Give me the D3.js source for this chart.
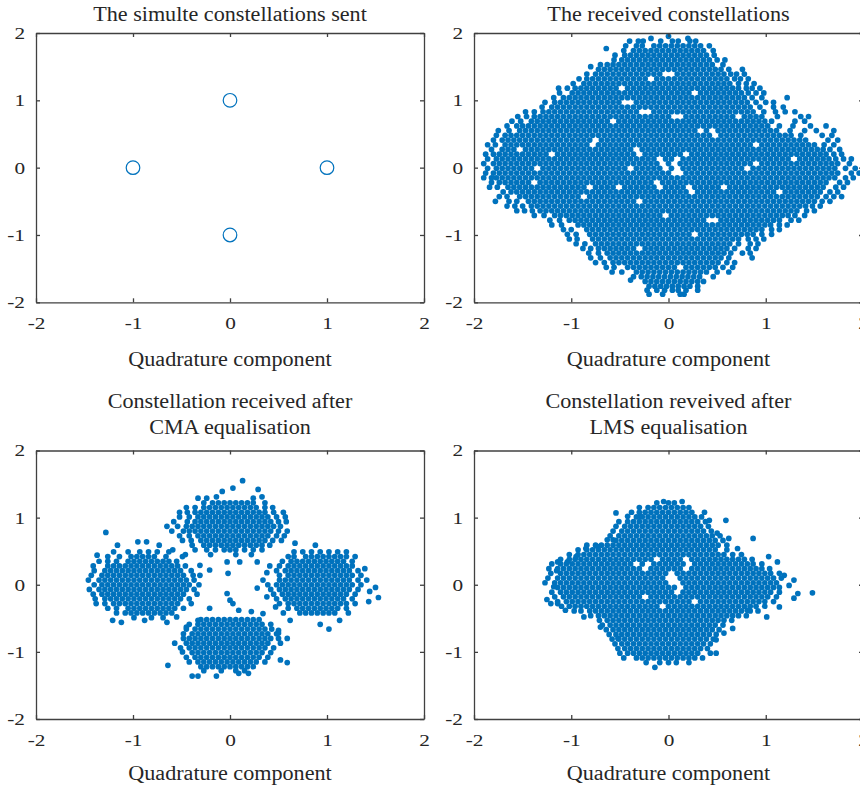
<!DOCTYPE html>
<html>
<head>
<meta charset="utf-8">
<script src="https://cdn.jsdelivr.net/npm/d3@7"></script>
<style>
  html, body { margin: 0; padding: 0; background: #ffffff; }
  svg { display: block; }
</style>
</head>
<body>
<script>
// ---- Data -----------------------------------------------------------------
// Axis ticks shared by all four constellation plots.
const ticks = [-2, -1, 0, 1, 2];

// Transmitted QPSK symbols (in-phase / quadrature).
const sentI = [-1, 0, 1, 0];
const sentQ = [0, 1, 0, -1];

// Titles (one entry per line) and the common x-axis label.
const titles = [
  ["The simulte constellations sent"],
  ["The received constellations"],
  ["Constellation received after", "CMA equalisation"],
  ["Constellation reveived after", "LMS equalisation"]
];
const xLabel = "Quadrature component";

// Received samples, stored row by row in hundredths: [y, x1, x2, ...].
const receivedRows = [
  [195, 0],
  [192, -18,20],
  [188, -40,-31,-26,-8,4,10,22,28],
  [181, -44,-33,-27,-15,-9,-3,3,9,15,21,27,33,42],
  [177, -64],
  [174, -46,-36,-30,-24,-18,-12,-6,0,6,12,18,24,30,36,46],
  [167, -55,-45,-39,-33,-27,-21,-15,-9,-3,3,9,15,21,27,33,39,47],
  [160, -56,-48,-42,-36,-30,-24,-18,-12,-6,0,6,12,18,24,30,36,42,50,58],
  [153, -70,-63,-57,-51,-45,-39,-33,-27,-21,-15,-9,-3,3,9,15,21,27,33,39,45,56],
  [150, -80],
  [146, -72,-66,-60,-54,-48,-42,-36,-30,-24,-18,-12,-6,0,6,12,18,24,30,36,42,48,54,62,76],
  [139, -84,-75,-69,-63,-57,-51,-45,-39,-33,-27,-21,-15,-9,9,15,21,27,33,39,45,51,57,64,70,78],
  [132, -92,-84,-78,-72,-66,-60,-54,-48,-42,-36,-30,-24,-12,-6,0,6,12,18,24,30,36,42,48,54,60,68,74,82],
  [125, -98,-87,-81,-75,-69,-63,-57,-51,-45,-39,-33,-27,-21,-15,-9,-3,3,9,15,21,27,33,39,45,51,57,63,72,80,88],
  [118, -113,-104,-96,-90,-84,-78,-72,-66,-60,-54,-42,-36,-30,-24,-18,-12,-6,0,6,12,18,24,30,36,42,48,54,60,66,72,80,86,94],
  [111, -112,-99,-93,-87,-81,-75,-69,-63,-57,-51,-45,-39,-33,-27,-21,-15,-9,-3,3,9,15,21,33,39,45,51,57,63,69,75,82,90,98],
  [104, -118,-108,-102,-96,-90,-84,-78,-72,-66,-60,-54,-48,-42,-36,-30,-24,-18,-12,-6,0,6,12,18,24,30,36,42,48,54,60,66,72,78,86,96,122],
  [97, -127,-117,-111,-105,-99,-93,-87,-81,-75,-69,-63,-57,-51,-33,-27,-21,-15,-9,-3,3,9,15,21,27,33,39,45,51,57,63,69,75,81,90,100,108],
  [90, -130,-120,-114,-108,-102,-96,-90,-84,-78,-72,-66,-60,-54,-48,-42,-36,-30,-24,-18,-12,-6,0,6,12,18,24,30,36,42,48,54,60,66,72,78,84,94,108,118],
  [83, -147,-138,-129,-123,-117,-111,-105,-99,-93,-87,-81,-75,-69,-63,-57,-51,-45,-39,-33,-15,-9,-3,3,9,15,21,27,33,39,45,51,57,63,69,75,81,87,98,110,120,130],
  [76, -155,-146,-138,-132,-126,-120,-114,-108,-102,-96,-90,-84,-78,-72,-66,-60,-54,-48,-42,-36,-30,-24,-18,-12,-6,0,18,24,30,36,42,48,54,60,66,78,84,90,96,112,136,144],
  [69, -161,-152,-141,-135,-129,-123,-117,-111,-105,-99,-93,-87,-81,-75,-69,-63,-51,-45,-39,-33,-27,-21,-15,-9,-3,3,9,15,21,27,33,39,45,51,57,63,69,75,81,87,93,99,106,130,140],
  [62, -166,-156,-150,-144,-138,-132,-126,-120,-114,-108,-102,-96,-90,-84,-78,-72,-66,-60,-54,-48,-42,-36,-30,-24,-18,-12,-6,0,6,12,18,24,30,36,42,48,54,60,66,72,78,84,90,96,102,114,128,146,162],
  [55, -175,-164,-153,-147,-141,-135,-129,-123,-117,-111,-105,-99,-93,-87,-81,-75,-69,-63,-57,-51,-45,-39,-33,-27,-21,-15,-9,-3,3,9,15,21,27,39,51,57,63,69,75,81,87,93,99,105,111,125,140,152,170],
  [48, -177,-168,-162,-156,-150,-144,-138,-132,-126,-120,-114,-108,-102,-96,-90,-84,-78,-72,-66,-60,-54,-48,-42,-36,-30,-24,-18,-12,-6,0,6,12,18,24,30,36,42,54,60,66,72,78,84,90,96,102,108,114,120,126,136,158,168],
  [41, -180,-171,-165,-159,-153,-147,-141,-135,-129,-123,-117,-111,-105,-99,-93,-87,-81,-69,-63,-57,-51,-45,-39,-33,-27,-21,-15,-9,-3,3,9,15,21,27,33,39,45,51,57,63,69,75,81,87,93,99,105,111,117,123,129,135,141,164,174],
  [34, -186,-178,-168,-162,-156,-150,-144,-138,-132,-126,-120,-114,-108,-102,-96,-90,-84,-72,-66,-60,-54,-48,-42,-36,-30,-24,-18,-12,-6,0,6,12,18,24,30,36,42,48,54,60,66,72,78,84,96,102,108,114,120,126,132,138,144,150,160,170],
  [27, -182,-171,-165,-159,-147,-141,-135,-129,-123,-117,-111,-105,-99,-93,-87,-81,-75,-69,-63,-57,-51,-45,-39,-27,-21,-15,-9,-3,3,9,15,21,27,33,39,45,51,57,63,69,75,81,87,93,99,105,111,117,123,129,135,141,147,153,159,166,176],
  [20, -188,-180,-174,-168,-162,-156,-150,-144,-138,-132,-126,-114,-108,-102,-96,-90,-84,-78,-72,-66,-60,-54,-48,-42,-36,-24,-18,-12,-6,0,6,12,24,30,36,42,48,54,60,66,72,78,84,90,96,102,108,114,120,126,132,138,144,150,156,162,170,178],
  [13, -186,-177,-171,-165,-159,-153,-147,-141,-135,-129,-123,-117,-111,-105,-99,-93,-87,-81,-75,-69,-63,-57,-51,-45,-39,-33,-27,-21,-15,-3,3,15,21,27,33,39,45,51,57,63,69,75,81,87,93,99,105,111,117,123,135,141,147,153,159,165,172,180,188],
  [6, -190,-180,-174,-168,-162,-156,-150,-144,-138,-132,-126,-120,-114,-108,-102,-96,-90,-84,-78,-72,-66,-60,-54,-48,-42,-36,-30,-24,-18,-12,0,12,18,24,30,36,42,48,54,60,66,72,78,84,96,102,108,114,120,126,132,138,144,150,156,162,168,174,186],
  [-1, -186,-177,-171,-165,-159,-153,-147,-141,-129,-123,-117,-111,-105,-99,-93,-87,-81,-75,-69,-63,-57,-51,-45,-33,-27,-21,-15,-9,3,15,21,27,33,39,45,51,57,63,69,75,87,93,99,105,111,117,123,129,135,141,147,153,159,165,171,182,192],
  [-8, -188,-180,-174,-168,-162,-156,-150,-144,-138,-132,-126,-120,-114,-108,-102,-96,-90,-84,-78,-72,-66,-60,-54,-48,-42,-36,-30,-24,-18,-12,-6,0,18,24,30,36,42,48,54,60,66,72,78,84,90,96,102,108,114,120,126,132,138,144,150,156,162,168,174,188,196],
  [-15, -190,-182,-177,-171,-165,-159,-153,-147,-141,-135,-129,-123,-117,-111,-105,-99,-93,-87,-81,-75,-69,-63,-57,-51,-45,-39,-33,-27,-21,-15,-9,-3,3,9,15,21,27,33,39,45,51,57,63,69,75,81,87,93,99,105,111,117,123,129,135,141,147,153,159,165,171,182,190],
  [-22, -182,-174,-168,-162,-156,-150,-144,-132,-126,-120,-114,-108,-102,-96,-90,-84,-78,-72,-66,-60,-54,-48,-42,-36,-30,-24,-18,-6,0,6,12,18,24,30,36,42,48,54,60,66,72,78,84,90,96,102,108,114,120,126,132,138,144,150,156,162,176,184],
  [-29, -184,-176,-165,-159,-153,-147,-141,-135,-129,-123,-117,-111,-105,-99,-93,-87,-75,-69,-63,-57,-45,-39,-33,-27,-21,-15,-3,3,9,15,27,33,39,45,51,63,69,75,81,87,93,99,105,111,117,123,129,135,141,147,153,159,172,180],
  [-36, -170,-162,-156,-150,-144,-138,-132,-126,-120,-114,-108,-102,-96,-90,-84,-78,-72,-66,-60,-54,-48,-42,-36,-30,-24,-18,-12,-6,0,6,12,18,30,36,42,48,54,60,66,72,78,84,90,96,102,108,120,126,132,138,144,150,156,166,174],
  [-43, -174,-166,-153,-147,-141,-135,-129,-123,-117,-111,-105,-99,-93,-81,-75,-69,-63,-57,-51,-45,-39,-33,-27,-21,-15,-9,-3,3,9,15,21,27,33,39,45,51,57,63,69,75,81,87,93,99,105,111,117,123,129,135,141,147,153,162,170,178],
  [-50, -178,-164,-156,-144,-138,-132,-126,-120,-114,-108,-102,-96,-90,-84,-78,-72,-66,-60,-54,-48,-42,-36,-24,-18,-12,-6,0,6,12,18,24,30,36,42,48,54,60,66,72,78,84,90,96,102,108,114,120,126,132,138,144,150,158,166],
  [-57, -166,-158,-150,-141,-135,-129,-123,-117,-111,-105,-99,-93,-87,-81,-75,-69,-63,-57,-51,-45,-39,-33,-27,-21,-15,-9,-3,3,9,15,21,27,33,39,45,51,57,63,69,75,81,87,93,99,105,111,117,123,129,135,141,148,156],
  [-64, -156,-148,-140,-132,-126,-120,-114,-108,-102,-96,-90,-84,-78,-72,-66,-60,-54,-48,-42,-36,-30,-24,-18,-12,-6,0,6,12,18,24,30,36,42,48,54,60,66,72,78,84,90,96,102,108,114,120,126,132,142,150],
  [-71, -138,-128,-117,-111,-105,-99,-93,-87,-81,-75,-69,-63,-57,-51,-45,-39,-33,-27,-21,-15,-9,3,9,15,21,27,33,39,45,51,57,63,69,75,81,87,93,99,105,111,117,123,130,140],
  [-78, -122,-112,-102,-96,-90,-84,-78,-72,-66,-60,-54,-48,-42,-36,-30,-24,-18,-12,-6,0,6,12,18,24,30,36,54,60,66,72,78,84,90,96,102,108,114,126,134],
  [-85, -120,-110,-93,-87,-81,-75,-69,-63,-57,-51,-45,-39,-33,-27,-21,-15,-9,-3,3,9,15,21,27,33,39,45,51,57,63,69,75,81,87,93,99,105,114,122],
  [-92, -108,-100,-84,-78,-72,-66,-60,-54,-48,-42,-36,-30,-24,-18,-12,-6,0,6,12,18,24,30,36,42,48,54,60,66,72,78,84,90,96,106,114],
  [-99, -104,-95,-81,-75,-69,-63,-57,-51,-45,-39,-33,-27,-21,-15,-9,-3,3,9,15,21,33,39,45,51,57,63,69,75,81,87,96,106],
  [-106, -102,-94,-78,-72,-66,-60,-54,-48,-42,-36,-30,-24,-18,-12,-6,0,6,12,18,24,30,36,42,48,54,60,66,72,82,90,98],
  [-113, -95,-86,-75,-69,-63,-57,-51,-45,-39,-33,-27,-21,-15,-9,-3,3,9,15,21,27,33,39,45,51,57,63,72,84,92],
  [-120, -88,-80,-72,-66,-60,-54,-48,-42,-36,-24,-18,-12,-6,0,6,12,18,24,30,36,42,48,54,60,68,82,90],
  [-127, -82,-72,-63,-57,-51,-45,-39,-33,-27,-21,-15,-9,-3,3,9,15,21,27,33,39,45,51,57,64,76,84],
  [-134, -80,-70,-60,-54,-48,-42,-36,-30,-24,-18,-12,-6,0,6,12,18,24,30,36,42,48,54,62,86],
  [-141, -75,-66,-57,-51,-45,-39,-33,-27,-21,-15,-9,-3,3,9,15,21,27,33,39,45,51,60,68],
  [-148, -64,-56,-42,-36,-30,-24,-18,-12,-6,0,6,18,24,30,36,42,48,56,66],
  [-155, -58,-48,-33,-27,-21,-15,-9,-3,3,9,15,21,27,33,39,50,62],
  [-162, -36,-28,-22,-16,-10,-4,2,8,14,20,26,32,46],
  [-167, -39],
  [-169, -24,-18,-12,-6,0,6,12,18,24,30,36],
  [-176, -20,-14,-8,-2,4,10,16,22,30],
  [-182, -22,-12,-4,4,10,18,30],
  [-188, -20,-6,12,16]
];

// Samples after CMA equalisation, same row layout.
const cmaRows = [
  // upper symbol
  [155, 13], [144, 3], [142, 29], [139, -8], [131, -14,33], [129, -33,-24,24],
  [122, -27,-18,-12,-6,0,6,12,18,24,36],
  [115, -45,-36,-27,-21,-15,-9,-3,3,9,15,21,27,36,44],
  [108, -52,-44,-36,-30,-24,-18,-12,-6,0,6,12,18,24,30,36,45,55],
  [101, -52,-42,-33,-27,-21,-15,-9,-3,3,9,15,21,27,33,39,48,57],
  [94, -58,-44,-36,-30,-24,-18,-12,-6,0,6,12,18,24,30,36,42,50,58],
  [87, -65,-54,-45,-39,-33,-27,-21,-15,-9,-3,3,9,15,21,27,33,39,45,52],
  [80, -60,-48,-42,-36,-30,-24,-18,-12,-6,0,6,12,18,24,30,36,42,50,59],
  [73, -52,-42,-33,-27,-21,-15,-9,-3,3,9,15,21,27,33,39,48,56],
  [66, -49,-40,-30,-24,-18,-12,-6,0,6,12,18,24,30,36,44,53],
  [59, -39,-27,-21,-15,-9,-3,3,9,15,21,27,33,41],
  [52, -36,-24,-15,-6,0,6,15,24,33],
  [45, -46,-20,6,22],
  [34, -3,10,28], [29, -31], [22, -21], [17, -2],
  // left symbol
  [78, -128], [64, -95,-86], [59, -116,-73], [52, -59], [44, -137],
  [49, -120,-105,-93,-84,-75,-63],
  [42, -126,-114,-102,-96,-90,-84,-78,-66,-49],
  [35, -135,-126,-117,-105,-99,-93,-87,-81,-75,-69,-63,-55],
  [28, -141,-126,-120,-114,-108,-102,-96,-90,-84,-78,-72,-66,-60,-54,-46],
  [21, -140,-129,-123,-117,-111,-105,-99,-93,-87,-81,-75,-69,-63,-57,-51,-40],
  [14, -143,-132,-126,-120,-114,-108,-102,-96,-90,-84,-78,-72,-66,-60,-54,-48,-38,-31],
  [7, -146,-135,-129,-123,-117,-111,-105,-99,-93,-87,-81,-75,-69,-63,-57,-51,-45,-37],
  [0, -140,-132,-126,-120,-114,-108,-102,-96,-90,-84,-78,-72,-66,-60,-54,-48,-42,-32],
  [-7, -145,-135,-129,-123,-117,-111,-105,-99,-93,-87,-81,-75,-69,-63,-57,-51,-45,-37],
  [-14, -141,-132,-126,-120,-114,-108,-102,-96,-90,-84,-78,-72,-66,-60,-54,-48,-34],
  [-21, -139,-129,-123,-117,-111,-105,-99,-93,-87,-81,-75,-69,-63,-57,-51,-42],
  [-28, -138,-129,-120,-114,-108,-102,-96,-90,-84,-78,-72,-66,-60,-54,-40],
  [-35, -126,-117,-105,-99,-93,-87,-81,-75,-69,-63,-57,-48],
  [-42, -117,-108,-102,-96,-90,-84,-78,-72,-66,-60],
  [-48, -55], [-49, -99,-81,-69], [-53, -121,-88], [-56, -112,-65],
  // right symbol
  [62, 67], [59, 88],
  [49, 66,75,84,93,102,111,120],
  [42, 60,66,78,84,90,96,102,108,114,120,129],
  [35, 54,63,69,75,81,87,93,99,105,111,117,126],
  [28, 41,51,60,66,72,78,84,90,96,102,108,114,120,126],
  [24, 139],
  [21, 48,57,63,69,75,81,87,93,99,105,111,117,123,132],
  [18, 38],
  [14, 51,60,66,72,78,84,90,96,102,108,114,120,126,135],
  [7, 34,51,57,63,69,75,81,87,93,99,105,111,117,123,132,141],
  [0, 39,48,54,60,66,72,78,84,90,96,102,108,114,120,126,135],
  [-4, 150], [-5, 28],
  [-7, 42,51,57,63,69,75,81,87,93,99,105,111,117,123,132],
  [-10, 144],
  [-14, 45,54,60,66,72,78,84,90,96,102,108,114,120,129],
  [-18, 38], [-19, 153],
  [-21, 48,57,63,69,75,81,87,93,99,105,111,117,126],
  [-25, 143],
  [-28, 51,60,66,72,78,84,90,96,102,108,114,120,129],
  [-33, 47],
  [-35, 60,69,75,81,87,93,99,105,111,120],
  [-42, 55,72,78,84,90,96,102,108,122],
  [-53, 62,113], [-59, 93], [-66, 102],
  // lower symbol
  [-13, -3], [-23, 0], [-28, 3], [-35, -21], [-38, 9], [-40, 22], [-43, 34],
  [-52, -30,-24,-18,-12,-6,0,6,12,18,24,30],
  [-53, -33],
  [-59, -42,-33,-27,-21,-15,-9,-3,3,9,15,21,27,33,42],
  [-63, -45],
  [-66, -45,-36,-30,-24,-18,-12,-6,0,6,12,18,24,30,36,43],
  [-68, 50], [-72, 50],
  [-73, -48,-39,-33,-27,-21,-15,-9,-3,3,9,15,21,27,33,39,48],
  [-80, -48,-42,-36,-30,-24,-18,-12,-6,0,6,12,18,24,30,36,42,50,59],
  [-87, -57,-45,-39,-33,-27,-21,-15,-9,-3,3,9,15,21,27,33,39,52],
  [-94, -51,-42,-36,-30,-24,-18,-12,-6,0,6,12,18,24,30,36,45],
  [-100, -49],
  [-101, -39,-33,-27,-21,-15,-9,-3,3,9,15,21,27,33,42],
  [-108, -45,-36,-30,-24,-18,-12,-6,0,6,12,18,24,30,39],
  [-112, 52],
  [-115, -42,-33,-27,-21,-15,-9,-3,3,9,15,21,27,36],
  [-116, 59], [-120, -64],
  [-122, -30,-24,-18,-12,-6,0,6,12,18,24],
  [-128, -27,-9,6,15],
  [-132, 9,19],
  [-136, -39,-33,-14]
];

// Samples after LMS equalisation, same row layout.
const lmsRows = [
  [124, -5,14],
  [122, -12,0,6],
  [115, -30,-21,-15,-9,-3,3,9,15,21],
  [108, -38,-30,-24,-18,-12,-6,0,6,12,18,24,37],
  [107, -54],
  [102, -42,-29],
  [101, -33,-27,-21,-15,-9,-3,3,9,15,21,27,34],
  [96, 42,59],
  [94, -51,-42,-36,-30,-24,-18,-12,-6,0,6,12,18,24,30,38],
  [87, -54,-45,-39,-33,-27,-21,-15,-9,-3,3,9,15,21,27,33,41],
  [80, -57,-48,-42,-36,-30,-24,-18,-12,-6,0,6,12,18,24,30,36,44],
  [77, 50],
  [73, -60,-51,-45,-39,-33,-27,-21,-15,-9,-3,3,9,15,21,27,33,39,45,53],
  [69, 62,87],
  [67, -63,-57],
  [66, -54,-48,-42,-36,-30,-24,-18,-12,-6,0,6,12,18,24,30,36,42,48,56],
  [59, -84,-75,-69,-63,-57,-51,-45,-39,-33,-27,-21,-15,-9,-3,3,9,15,21,27,33,39,45,51,60],
  [57, -73],
  [54, -85,71],
  [52, -93,-84,-78,-72,-66,-60,-54,-48,-42,-36,-30,-24,-18,-12,-6,0,6,12,18,24,30,36,42,48,60],
  [45, -102,-93,-87,-81,-75,-69,-63,-57,-51,-45,-39,-33,-27,-21,-15,-9,-3,3,9,15,21,27,33,39,45,51,57,66,75],
  [42, -95,103],
  [38, -111,-102,-96,-90,-84,-78,-72,-66,-60,-54,-48,-42,-36,-30,-24,-18,-6,0,6,12,24,30,36,42,48,54,60,66,72,78,86],
  [34, -114,-104,112],
  [31, -120,-111,-105,-99,-93,-87,-81,-75,-69,-63,-57,-51,-45,-39,-27,-15,-9,-3,3,9,15,27,33,39,45,51,57,63,69,75,81,87,96],
  [24, -123,-114,-108,-102,-96,-90,-84,-78,-72,-66,-60,-54,-48,-42,-36,-30,-18,-12,-6,0,6,12,24,30,36,42,48,54,60,66,72,78,84,90,96,104],
  [21, -115],
  [17, -121,-111,-105,-99,-93,-87,-81,-75,-69,-63,-57,-51,-45,-39,-33,-27,-21,-15,-9,-3,9,15,21,27,33,39,45,51,57,63,69,75,81,87,93,99,105,114],
  [14, 119],
  [10, -124,-114,-108,-102,-96,-90,-84,-78,-72,-66,-60,-54,-48,-42,-36,-30,-24,-18,-12,-6,12,18,24,30,36,42,48,54,60,66,72,78,84,90,96,102,108,116],
  [7, 129],
  [3, -127,-117,-111,-105,-99,-93,-87,-81,-75,-69,-63,-57,-51,-45,-39,-33,-27,-21,-15,-9,-3,15,21,27,33,39,45,51,57,63,69,75,81,87,93,99,105,111],
  [-1, 124],
  [-3, -118],
  [-4, -114,-108,-102,-96,-90,-84,-78,-72,-66,-60,-54,-48,-42,-36,-30,-24,-18,-12,-6,0,6,18,24,30,36,42,48,54,60,66,72,78,84,90,96,102,108,114],
  [-11, -120,-111,-105,-99,-93,-87,-81,-75,-69,-63,-57,-51,-45,-39,-33,-27,-21,-15,-9,-3,3,15,21,27,33,39,45,51,57,63,69,75,81,87,93,99,105,114],
  [-12, 148],
  [-13, 133],
  [-18, -117,-108,-102,-96,-90,-84,-78,-72,-66,-60,-54,-48,-42,-36,-30,-18,-12,-6,0,6,12,18,24,30,36,42,48,54,60,66,72,78,84,90,96,102,111],
  [-20, 129],
  [-22, -125],
  [-25, -114,-105,-99,-93,-87,-81,-75,-69,-63,-57,-51,-45,-39,-33,-27,-21,-15,-9,-3,3,9,15,21,33,39,45,51,57,63,69,75,81,87,93,99,108],
  [-28, -121,-114],
  [-32, -110,-102,-96,-90,-84,-78,-72,-66,-60,-54,-48,-42,-36,-30,-24,-18,-12,0,6,12,18,24,30,36,42,48,54,60,66,72,78,84,90,99],
  [-33, 114],
  [-38, -106,81],
  [-39, -97,-90,-81,-75,-69,-63,-57,-51,-45,-39,-33,-27,-21,-15,-9,-3,3,9,15,21,27,33,39,45,51,57,63,69,75,84,92],
  [-46, -80,-72,-66,-60,-54,-48,-42,-36,-30,-24,-18,-12,-6,0,6,12,18,24,30,36,42,48,54,60,66,72,80],
  [-48, -87,101],
  [-53, -71,-63,-57,-51,-45,-39,-33,-27,-21,-15,-9,-3,3,9,15,21,27,33,39,45,51,57,65],
  [-60, -68,-60,-54,-48,-42,-36,-30,-24,-18,-12,-6,0,6,12,18,24,30,36,42,48,56],
  [-63, -70],
  [-65, 66],
  [-67, -64,-57,-51,-45,-39,-33,-27,-21,-15,-9,-3,3,9,15,21,27,33,39,45,52],
  [-72, 57],
  [-74, -61,-54,-48,-42,-36,-30,-24,-18,-12,-6,0,6,12,18,24,30,36,42,49],
  [-80, -52],
  [-81, -58,-51,-45,-39,-33,-27,-21,-15,-9,-3,3,9,15,21,27,33,39,46],
  [-82, 49],
  [-88, -55,-48,-42,-36,-30,-24,-18,-12,-6,0,6,12,18,24,30,36,43],
  [-95, -52,-45,-39,-33,-27,-21,-15,-9,-3,3,9,15,21,27,33,40],
  [-102, -50,-42,-36,-30,-24,-18,-12,-6,0,6,12,18,24,30,43,49],
  [-109, -46,-33,-27,-21,-15,-9,-3,3,9,15,21,27,35],
  [-116, -23,-9,0,8,21],
  [-123, -14]
];

// ---- Helpers ----------------------------------------------------------------
const toPoints = rows => rows.flatMap(([y, ...xs]) => xs.map(x => ({ x: x / 100, y: y / 100 })));
const sentPoints = sentI.map((v, i) => ({ x: v, y: sentQ[i] }));

const W = 860, H = 791;
const dotColor = "#0072BD";
const axisColor = "#404040";
const textColor = "#262626";
const fontFamily = "'Liberation Serif', 'Times New Roman', serif";

const svg = d3.select("body").append("svg").attr("width", W).attr("height", H);

// Stretch rendered text horizontally by factor k.
function stretch(sel, k) {
  sel.each(function () {
    const w = this.getComputedTextLength();
    if (w > 0) {
      this.setAttribute("textLength", (w * k).toFixed(2));
      this.setAttribute("lengthAdjust", "spacingAndGlyphs");
    }
  });
}

const panels = [
  { frame: { x0: 36, x1: 424, y0: 33, y1: 302.3 }, title: titles[0], titleY: [21], labelY: 365.5, kind: "sent" },
  { frame: { x0: 474, x1: 863, y0: 33, y1: 302.3 }, title: titles[1], titleY: [21], labelY: 365.5, kind: "dots", points: toPoints(receivedRows) },
  { frame: { x0: 36, x1: 424, y0: 450.5, y1: 719 }, title: titles[2], titleY: [407.5, 433.5], labelY: 780, kind: "dots", points: toPoints(cmaRows) },
  { frame: { x0: 474, x1: 863, y0: 450.5, y1: 719 }, title: titles[3], titleY: [407.5, 433.5], labelY: 780, kind: "dots", points: toPoints(lmsRows) }
];

panels.forEach(p => {
  const f = p.frame;
  const x = d3.scaleLinear().domain([-2, 2]).range([f.x0, f.x1]);
  const y = d3.scaleLinear().domain([-2, 2]).range([f.y1, f.y0]);
  const g = svg.append("g");

  // marks
  if (p.kind === "sent") {
    g.append("g").selectAll("circle").data(sentPoints).join("circle")
      .attr("cx", d => x(d.x)).attr("cy", d => y(d.y)).attr("r", 6.8)
      .attr("fill", "none").attr("stroke", dotColor).attr("stroke-width", 1.2);
  } else {
    g.append("g").selectAll("circle").data(p.points).join("circle")
      .attr("cx", d => x(d.x)).attr("cy", d => y(d.y)).attr("r", 2.85)
      .attr("fill", dotColor);
  }

  // box axes with inward ticks on all four sides
  const style = s => {
    s.attr("font-family", fontFamily).attr("font-size", 17);
    s.select(".domain").attr("stroke", axisColor).attr("stroke-width", 1.3);
    s.selectAll(".tick line").attr("stroke", axisColor).attr("stroke-width", 1.3);
    s.selectAll(".tick text").attr("fill", textColor);
  };
  const fmt = d => String(d);
  const none = () => "";

  const bottom = g.append("g").attr("transform", `translate(0,${f.y1})`)
    .call(d3.axisBottom(x).tickValues(ticks).tickSize(-4).tickSizeOuter(0).tickPadding(15).tickFormat(fmt)).call(style);
  const left = g.append("g").attr("transform", `translate(${f.x0},0)`)
    .call(d3.axisLeft(y).tickValues(ticks).tickSize(-4).tickSizeOuter(0).tickPadding(11).tickFormat(fmt)).call(style);
  g.append("g").attr("transform", `translate(0,${f.y0})`)
    .call(d3.axisTop(x).tickValues(ticks).tickSize(-4).tickSizeOuter(0).tickFormat(none)).call(style);
  g.append("g").attr("transform", `translate(${f.x1},0)`)
    .call(d3.axisRight(y).tickValues(ticks).tickSize(-4).tickSizeOuter(0).tickFormat(none)).call(style);
  stretch(bottom.selectAll(".tick text"), 1.25);
  stretch(left.selectAll(".tick text"), 1.25);

  // title and x label
  const cx = (f.x0 + f.x1) / 2;
  p.title.forEach((line, i) => {
    g.append("text").attr("x", cx).attr("y", p.titleY[i])
      .attr("text-anchor", "middle").attr("font-family", fontFamily)
      .attr("font-size", 20.5).attr("fill", textColor).text(line)
      .call(s => stretch(s, 1.08));
  });
  g.append("text").attr("x", cx).attr("y", p.labelY)
    .attr("text-anchor", "middle").attr("font-family", fontFamily)
    .attr("font-size", 20.5).attr("fill", textColor).text(xLabel)
    .call(s => stretch(s, 1.08));
});
</script>
</body>
</html>
